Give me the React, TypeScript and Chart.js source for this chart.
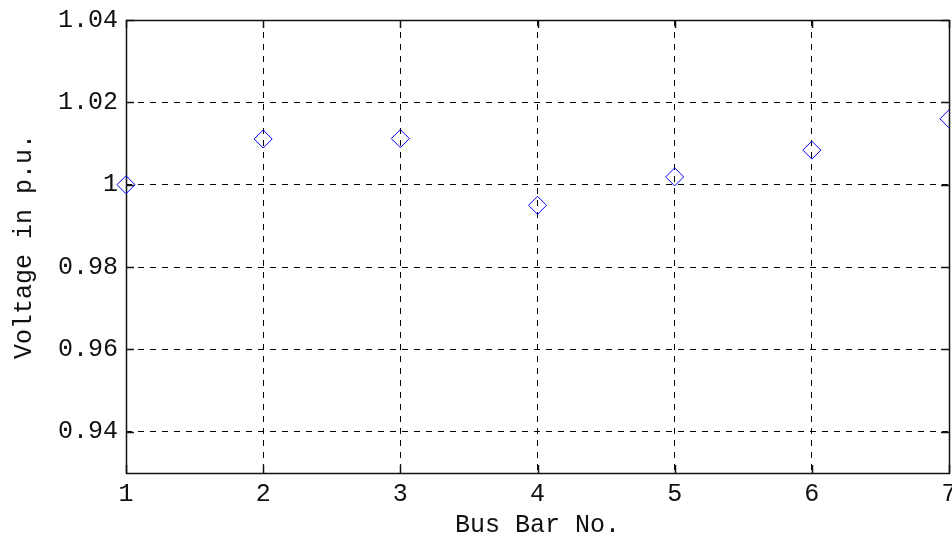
import React, { useEffect, useRef } from "react";
import { Chart, registerables } from "chart.js";

Chart.register(...registerables);

const busBars = [1, 2, 3, 4, 5, 6, 7];
const voltages = [1.0, 1.0111, 1.0112, 0.995, 1.0019, 1.0084, 1.016];
const xTicks = [1, 2, 3, 4, 5, 6, 7];
const yTicks = [0.94, 0.96, 0.98, 1.0, 1.02, 1.04];
const xTitle = "Bus Bar No.";
const yTitle = "Voltage in p.u.";

const FONT = "'Liberation Mono', 'Courier New', monospace";
const TICK_LEN = 8;
const ZERO_PAD = () => ({ left: 0, top: 0, right: 0, bottom: 0 });

const framePlugin = {
  id: "frame",
  beforeDatasetsDraw(chart: any) {
    const { ctx, chartArea, scales } = chart;
    const { left, right, top, bottom } = chartArea;
    const x = scales.x;
    const y = scales.y;
    ctx.save();
    ctx.strokeStyle = "#111";
    ctx.lineWidth = 1.5;
    ctx.setLineDash([]);
    ctx.beginPath();
    for (const v of yTicks) {
      const py = Math.round(y.getPixelForValue(v)) + 0.5;
      ctx.moveTo(left, py);
      ctx.lineTo(left + TICK_LEN, py);
      ctx.moveTo(right, py);
      ctx.lineTo(right - TICK_LEN, py);
    }
    for (const v of xTicks) {
      const px = Math.round(x.getPixelForValue(v)) + 0.5;
      ctx.moveTo(px, bottom);
      ctx.lineTo(px, bottom - TICK_LEN);
      ctx.moveTo(px, top);
      ctx.lineTo(px, top + TICK_LEN);
    }
    ctx.stroke();
    ctx.strokeRect(
      Math.round(left) + 0.5,
      Math.round(top) + 0.5,
      Math.round(right) - Math.round(left),
      Math.round(bottom) - Math.round(top)
    );
    ctx.restore();
  },
};

export default function App() {
  const ref = useRef<HTMLCanvasElement | null>(null);

  useEffect(() => {
    document.body.style.margin = "0";
    if (!ref.current) return;
    const chart = new Chart(ref.current, {
      type: "scatter",
      data: {
        datasets: [
          {
            data: busBars.map((b, i) => ({ x: b, y: voltages[i] })),
            pointStyle: "rectRot",
            pointRadius: 9,
            pointHoverRadius: 9,
            pointBorderColor: "#0000ff",
            pointBackgroundColor: "rgba(0,0,0,0)",
            pointBorderWidth: 1,
            showLine: false,
            clip: { left: 15, top: 15, right: 0, bottom: 15 } as any,
          },
        ],
      },
      options: {
        animation: false,
        responsive: false,
        events: [],
        layout: { autoPadding: false, padding: { top: 20, right: 3, left: 0, bottom: 0 } },
        plugins: {
          legend: { display: false },
          tooltip: { enabled: false },
        },
        scales: {
          x: {
            type: "linear",
            min: 1,
            max: 7,
            afterBuildTicks: (s: any) => {
              s.ticks = xTicks.map((v) => ({ value: v }));
            },
            afterFit: (s: any) => {
              s.height = 64;
              s.paddingLeft = 0;
              s.paddingRight = 0;
              s.getPadding = ZERO_PAD;
            },
            grid: {
              color: "#000",
              lineWidth: 1,
              drawTicks: false,
            },
            border: { display: false, dash: [6, 6] },
            ticks: {
              color: "#111",
              font: { family: FONT, size: 25 },
              padding: 6,
              maxRotation: 0,
              autoSkip: false,
              callback: (v: any) => String(v),
            },
            title: {
              display: true,
              text: xTitle,
              color: "#111",
              font: { family: FONT, size: 25, lineHeight: "24px" as any },
              padding: { top: 0, bottom: 0 },
            },
          },
          y: {
            type: "linear",
            min: 0.93,
            max: 1.04,
            afterBuildTicks: (s: any) => {
              s.ticks = yTicks.map((v) => ({ value: v }));
            },
            afterFit: (s: any) => {
              s.width = 126;
              s.paddingTop = 0;
              s.paddingBottom = 0;
              s.getPadding = ZERO_PAD;
            },
            grid: {
              color: "#000",
              lineWidth: 1,
              drawTicks: false,
            },
            border: { display: false, dash: [6, 6] },
            ticks: {
              color: "#111",
              font: { family: FONT, size: 25 },
              padding: 8,
              autoSkip: false,
              callback: (v: any) => String(parseFloat(Number(v).toFixed(2))),
            },
            title: {
              display: true,
              text: yTitle,
              color: "#111",
              font: { family: FONT, size: 25, lineHeight: "24px" as any },
              padding: { top: 12, bottom: 0 },
            },
          },
        },
      },
      plugins: [framePlugin],
    });
    return () => chart.destroy();
  }, []);

  return (
    <div style={{ width: 952, height: 537 }}>
      <canvas ref={ref} width={952} height={537} style={{ display: "block" }} />
    </div>
  );
}
